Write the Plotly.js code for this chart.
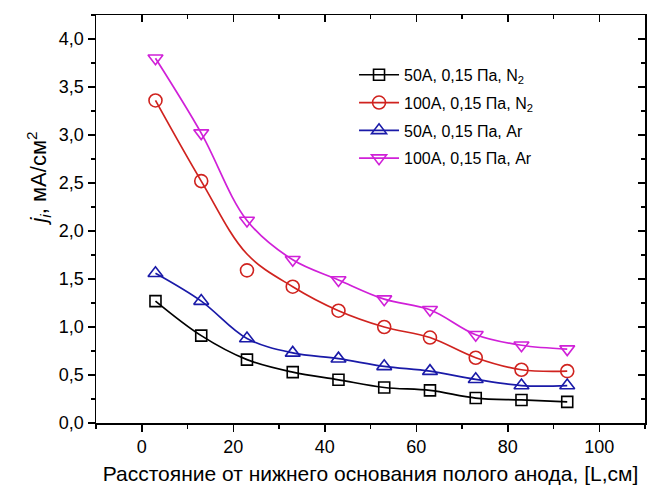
<!DOCTYPE html>
<html>
<head>
<meta charset="utf-8">
<script src="https://cdn.plot.ly/plotly-3.0.1.min.js"></script>
<style>html,body{margin:0;padding:0;background:#fff;}#chart{width:666px;height:493px;}</style>
</head>
<body>
<div id="chart"></div>
<script>
// Distance L, cm
const distance = [3, 13, 23, 33, 43, 53, 63, 73, 83, 93];
// Ion current density j_i, mA/cm^2
const n2_50A   = [1.27, 0.91, 0.66, 0.53, 0.45, 0.37, 0.34, 0.26, 0.24, 0.22];
const n2_100A  = [3.36, 2.52, 1.59, 1.42, 1.17, 1.00, 0.89, 0.68, 0.555, 0.54];
const ar_50A   = [1.56, 1.27, 0.88, 0.73, 0.67, 0.59, 0.54, 0.455, 0.39, 0.39];
const ar_100A  = [3.80, 3.02, 2.11, 1.70, 1.49, 1.29, 1.18, 0.92, 0.81, 0.77];
// fitted curve for 100A N2 (curve passes above the 23 cm point)
const n2_100A_curve = [3.36, 2.52, 1.76, 1.42, 1.17, 1.00, 0.89, 0.68, 0.555, 0.54];

const names = [
  "50A, 0,15 Па, N<sub>2</sub>",
  "100A, 0,15 Па, N<sub>2</sub>",
  "50A, 0,15 Па, Ar",
  "100A, 0,15 Па, Ar"
];
const yTitle = "<i>j</i><sub><i>i</i></sub>, мА/см<sup>2</sup>";
const xTitle = "Расстояние от нижнего основания полого анода, [L,см]";
const colors = ["#000000", "#d0231f", "#1a1aa8", "#d020d8"];
const symbols = ["square-open", "circle-open", "triangle-up-open", "triangle-down-open"];
const series = [n2_50A, n2_100A, ar_50A, ar_100A];

const traces = [];
// red smooth curve (line only)
traces.push({
  x: distance, y: n2_100A_curve, mode: "lines", type: "scatter",
  line: {color: colors[1], width: 1.7, shape: "spline", smoothing: 1},
  showlegend: false, hoverinfo: "skip", legendgroup: "g1"
});
series.forEach((s, i) => {
  traces.push({
    x: distance, y: s, type: "scatter",
    mode: i === 1 ? "markers" : "lines+markers",
    name: names[i], legendgroup: "g" + i,
    line: {color: colors[i], width: 1.7, shape: "spline", smoothing: 1},
    marker: {symbol: symbols[i], size: i === 0 ? 11 : 13, color: colors[i], line: {color: colors[i], width: 1.6}}
  });
});
// legend helper for the red series (line + marker)
traces[2].showlegend = false;
traces.splice(2, 0, {
  x: [null], y: [null], type: "scatter", mode: "lines+markers", name: names[1], legendgroup: "g1",
  line: {color: colors[1], width: 1.7},
  marker: {symbol: symbols[1], size: 13, color: colors[1], line: {color: colors[1], width: 1.6}}
});
// overlay axes for inner mirror ticks
traces.push({x: [], y: [], xaxis: "x2", yaxis: "y2", type: "scatter", mode: "markers", showlegend: false, hoverinfo: "skip"});

const font = {family: "Liberation Sans, Arial, sans-serif", color: "#000"};
const layout = {
  width: 666, height: 493,
  margin: {l: 96, r: 21, t: 15, b: 70},
  paper_bgcolor: "#fff", plot_bgcolor: "#fff",
  separators: ", ",
  showlegend: true,
  font: Object.assign({size: 17}, font),
  xaxis: {
    range: [-10, 110], tickvals: [0, 20, 40, 60, 80, 100], ticks: "outside", ticklen: 7, tickwidth: 1.5,
    tickcolor: "#000", showline: true, linecolor: "#000", linewidth: 1.5, showgrid: false, zeroline: false,
    minor: {dtick: 10, tick0: 0, ticks: "outside", ticklen: 4, tickwidth: 1.5, tickcolor: "#000", showgrid: false},
    tickfont: Object.assign({size: 18}, font),
    title: {text: xTitle, font: Object.assign({size: 21}, font), standoff: 10}
  },
  yaxis: {
    range: [0, 4.25], tickvals: [0, 0.5, 1, 1.5, 2, 2.5, 3, 3.5, 4], tickformat: ".1f",
    ticks: "outside", ticklen: 7, tickwidth: 1.5, tickcolor: "#000",
    showline: true, linecolor: "#000", linewidth: 1.5, showgrid: false, zeroline: false,
    minor: {dtick: 0.25, tick0: 0, ticks: "outside", ticklen: 4, tickwidth: 1.5, tickcolor: "#000", showgrid: false},
    tickfont: Object.assign({size: 18}, font)
  },
  xaxis2: {
    overlaying: "x", side: "top", anchor: "y2", range: [-10, 110], tickvals: [0, 20, 40, 60, 80, 100],
    ticks: "inside", ticklen: 7, tickwidth: 1.5, tickcolor: "#000", showticklabels: false,
    showline: true, linecolor: "#000", linewidth: 1.5, showgrid: false, zeroline: false,
    minor: {dtick: 10, tick0: 0, ticks: "inside", ticklen: 4, tickwidth: 1.5, tickcolor: "#000", showgrid: false}
  },
  yaxis2: {
    overlaying: "y", side: "right", anchor: "x2", range: [0, 4.25], tickvals: [0, 0.5, 1, 1.5, 2, 2.5, 3, 3.5, 4],
    ticks: "inside", ticklen: 7, tickwidth: 1.5, tickcolor: "#000", showticklabels: false,
    showline: true, linecolor: "#000", linewidth: 1.5, showgrid: false, zeroline: false,
    minor: {dtick: 0.25, tick0: 0, ticks: "inside", ticklen: 4, tickwidth: 1.5, tickcolor: "#000", showgrid: false}
  },
  annotations: [{
    text: yTitle, xref: "paper", yref: "paper", x: -0.105, y: 0.6, xanchor: "center", yanchor: "middle",
    textangle: -90, showarrow: false, font: Object.assign({size: 22}, font)
  }],
  legend: {
    x: 0.47, y: 0.895, xanchor: "left", yanchor: "top",
    bgcolor: "rgba(255,255,255,0)", borderwidth: 0,
    font: Object.assign({size: 16}, font), tracegroupgap: 4, itemwidth: 40
  }
};

Plotly.newPlot("chart", traces, layout, {staticPlot: true, displayModeBar: false});
</script>
</body>
</html>
